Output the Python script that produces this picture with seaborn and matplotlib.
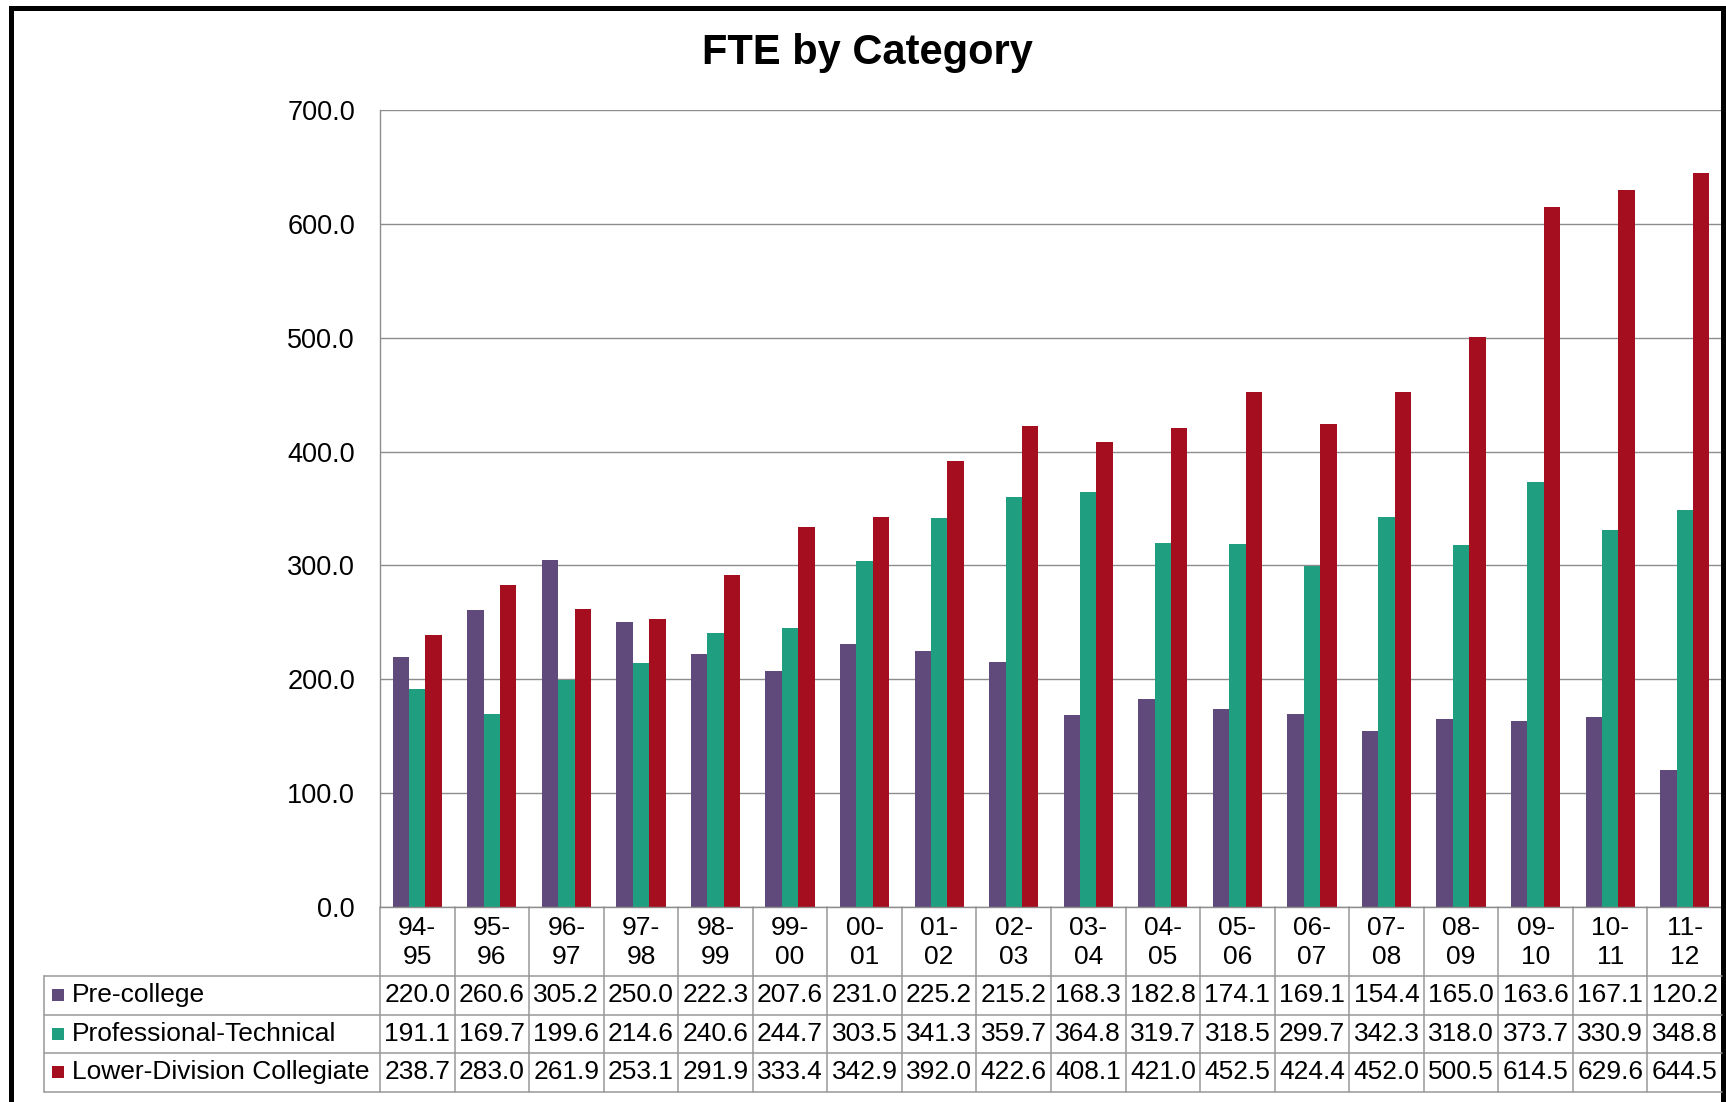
import pandas as pd
import matplotlib.pyplot as plt
import matplotlib.ticker as mticker
import matplotlib.patches as mpatches
from matplotlib.transforms import blended_transform_factory
import seaborn as sns

sns.set_theme(style="white")
plt.rcParams["font.family"] = ["Liberation Sans", "DejaVu Sans"]

PURPLE = "#604A7B"
TEAL = "#1F9E80"
RED = "#A50E1F"
GRID = "#8C8C8C"
CELL_LINE = "#999999"
FS = 19

# ------------------------------------------------------------------
# data, read off the chart's data table
# ------------------------------------------------------------------

years = ["94-95", "95-96", "96-97", "97-98", "98-99", "99-00", "00-01", "01-02", "02-03",
         "03-04", "04-05", "05-06", "06-07", "07-08", "08-09", "09-10", "10-11", "11-12"]
categories = ["Pre-college", "Professional-Technical", "Lower-Division Collegiate"]

pre_college = [220.0, 260.6, 305.2, 250.0, 222.3, 207.6, 231.0, 225.2, 215.2,
               168.3, 182.8, 174.1, 169.1, 154.4, 165.0, 163.6, 167.1, 120.2]
prof_tech = [191.1, 169.7, 199.6, 214.6, 240.6, 244.7, 303.5, 341.3, 359.7,
             364.8, 319.7, 318.5, 299.7, 342.3, 318.0, 373.7, 330.9, 348.8]
lower_div = [238.7, 283.0, 261.9, 253.1, 291.9, 333.4, 342.9, 392.0, 422.6,
             408.1, 421.0, 452.5, 424.4, 452.0, 500.5, 614.5, 629.6, 644.5]

series = [pre_college, prof_tech, lower_div]
colors = [PURPLE, TEAL, RED]

fte = pd.DataFrame({
    "year": years * 3,
    "category": [c for c in categories for _ in years],
    "fte": pre_college + prof_tech + lower_div,
})

# ------------------------------------------------------------------
# layout (pixel geometry of the 1726 x 1102 original)
# ------------------------------------------------------------------

W, H = 1726, 1102
fig = plt.figure(figsize=(W / 100, H / 100), dpi=100)

def fy(px):
    return 1 - px / H

ax_left, ax_right, ax_top, ax_bottom = 380, 1722, 110, 907
ax = fig.add_axes([ax_left / W, fy(ax_bottom), (ax_right - ax_left) / W, (ax_bottom - ax_top) / H])

sns.barplot(data=fte, x="year", y="fte", hue="category", hue_order=categories,
            palette=colors, width=0.66, gap=0, saturation=1, legend=False,
            linewidth=0, edgecolor="none", ax=ax)

ax.set_xlim(-0.5, len(years) - 0.5)
ax.set_ylim(0, 700)
ax.yaxis.set_major_locator(mticker.MultipleLocator(100))
ax.yaxis.set_major_formatter(mticker.FuncFormatter(lambda v, _: f"{v:.1f}"))
ax.tick_params(axis="y", length=0, pad=18, labelsize=FS + 0.5, labelcolor="black")
ax.set_xticks([])
ax.set_xlabel("")
ax.set_ylabel("")
ax.grid(axis="y", color=GRID, linewidth=1.0)
ax.set_axisbelow(True)
for side in ["top", "right"]:
    ax.spines[side].set_visible(False)
for side in ["left", "bottom"]:
    ax.spines[side].set_color(GRID)
    ax.spines[side].set_linewidth(1.0)

fig.text(867 / W, fy(53), "FTE by Category", ha="center", va="center",
         fontsize=30, fontweight="bold", color="black")

# ------------------------------------------------------------------
# data table under the plot (x in category units, y in figure fraction)
# ------------------------------------------------------------------

tr = blended_transform_factory(ax.transData, fig.transFigure)
fig_tr = fig.transFigure

header_top, header_bottom = 907, 976
row_edges = [976, 1014.5, 1053, 1091.5]
table_left = 44
x_edges = [i - 0.5 for i in range(len(years) + 1)]

# vertical column lines
for xe in x_edges:
    ax.plot([xe, xe], [fy(header_top), fy(row_edges[-1])], transform=tr,
            color=CELL_LINE, linewidth=1.1, clip_on=False)
# label-column left line
fig.add_artist(plt.Line2D([table_left / W, table_left / W], [fy(row_edges[0]), fy(row_edges[-1])],
                          transform=fig_tr, color=CELL_LINE, linewidth=1.1))
# horizontal row lines
for ye in row_edges:
    fig.add_artist(plt.Line2D([table_left / W, ax_right / W], [fy(ye), fy(ye)],
                              transform=fig_tr, color=CELL_LINE, linewidth=1.1))

# header row: year labels split on two lines
for i, yr in enumerate(years):
    ax.text(i, fy((header_top + header_bottom) / 2 + 1), yr.replace("-", "-\n"), transform=tr,
            ha="center", va="center", fontsize=FS, linespacing=1.25, color="black", clip_on=False)

# data rows with legend keys
for r, (name, values, col) in enumerate(zip(categories, series, colors)):
    yc = fy((row_edges[r] + row_edges[r + 1]) / 2)
    fig.add_artist(mpatches.Rectangle((52 / W, yc - 6 / H), 12 / W, 12 / H,
                                      transform=fig_tr, facecolor=col, edgecolor="none"))
    fig.text(72 / W, yc, name, ha="left", va="center", fontsize=FS, color="black")
    for i, v in enumerate(values):
        ax.text(i, yc, f"{v:.1f}", transform=tr, ha="center", va="center",
                fontsize=FS, color="black", clip_on=False)

# outer chart frame (runs off the bottom edge)
fig.add_artist(mpatches.Rectangle((11 / W, -0.02), (1723 - 11) / W, fy(8) + 0.02,
                                  transform=fig_tr, fill=False, edgecolor="black", linewidth=3.6))

fig.savefig("out.png", dpi=100)
